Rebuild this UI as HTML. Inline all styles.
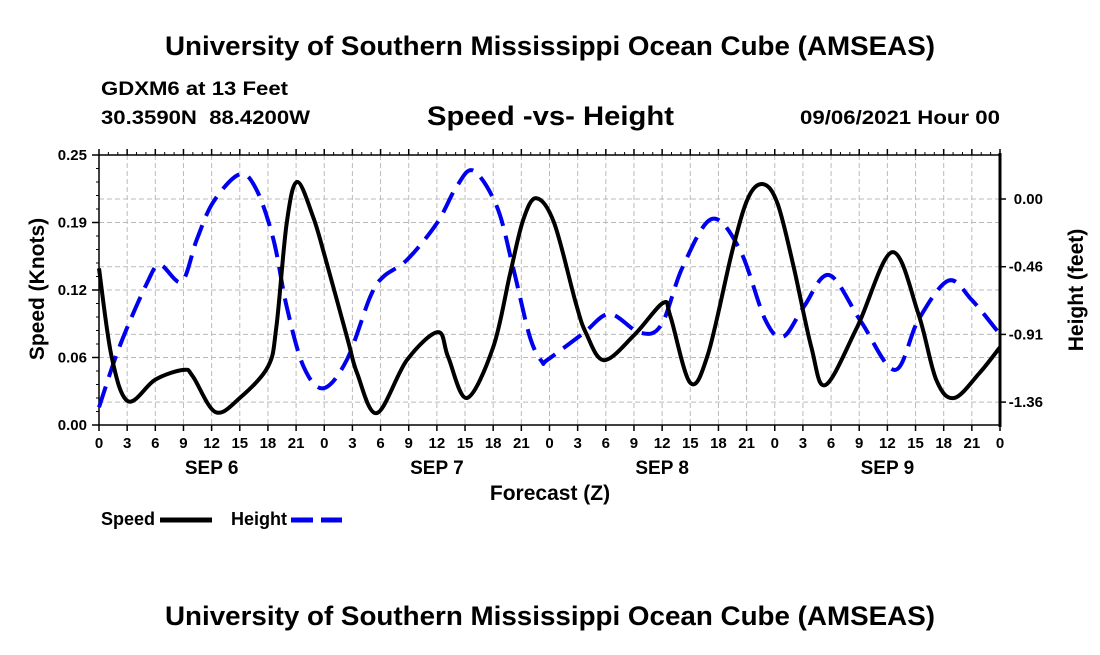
<!DOCTYPE html>
<html><head><meta charset="utf-8"><style>
body{margin:0;background:#fff;}
svg text{font-family:"Liberation Sans",sans-serif;font-weight:bold;fill:#000;}
</style></head><body>
<svg id="c" width="1100" height="650" viewBox="0 0 1100 650">
<text x="165" y="55" font-size="27" textLength="770" lengthAdjust="spacingAndGlyphs">University of Southern Mississippi Ocean Cube (AMSEAS)</text>
<text x="101" y="95" font-size="19" textLength="187" lengthAdjust="spacingAndGlyphs">GDXM6 at 13 Feet</text>
<text x="101" y="124" font-size="19" textLength="209" lengthAdjust="spacingAndGlyphs" xml:space="preserve">30.3590N  88.4200W</text>
<text x="427" y="125" font-size="27" textLength="247" lengthAdjust="spacingAndGlyphs">Speed -vs- Height</text>
<text x="800" y="124" font-size="19" textLength="200" lengthAdjust="spacingAndGlyphs">09/06/2021 Hour 00</text>
<g id="grid"></g>
<g id="axes"></g>
<g id="series"></g>
<text transform="translate(44,289) rotate(-90)" font-size="21" text-anchor="middle">Speed (Knots)</text>
<text transform="translate(1083,290) rotate(-90)" font-size="21" text-anchor="middle">Height (feet)</text>
<text x="550" y="500" font-size="21" text-anchor="middle">Forecast (Z)</text>
<g>
<text x="101" y="525" font-size="18">Speed</text>
<line x1="160" y1="520" x2="212" y2="520" stroke="#000" stroke-width="5"/>
<text x="231" y="525" font-size="18">Height</text>
<line x1="291" y1="520" x2="342" y2="520" stroke="#0000ee" stroke-width="5" stroke-dasharray="22,8"/>
</g>
<text x="165" y="625" font-size="27" textLength="770" lengthAdjust="spacingAndGlyphs">University of Southern Mississippi Ocean Cube (AMSEAS)</text>
</svg>
<script>
const speedHours=[0,1.35,3.1,6,9,10,12.4,15,18,18.9,20,21.1,22.8,24.1,26.5,27.5,29.6,32.8,36.1,37.2,39.2,42,43.8,45.2,46.6,48.5,50.8,51.9,53.8,57,60.1,60.9,63,64.9,67.5,69.2,70.8,72.3,74,75.9,77.4,80.8,84.5,87.3,89.2,91.1,93.8,96];
const speedValues=[0.145,0.063,0.022,0.042,0.051,0.045,0.012,0.025,0.054,0.091,0.187,0.225,0.193,0.155,0.079,0.048,0.011,0.060,0.086,0.063,0.025,0.072,0.14,0.19,0.21,0.187,0.113,0.085,0.060,0.083,0.113,0.100,0.039,0.066,0.162,0.211,0.223,0.205,0.147,0.072,0.037,0.091,0.160,0.103,0.042,0.025,0.048,0.072];
const heightHours=[0,2.2,5.1,6.5,8.8,10.4,12.2,15,16.8,18.6,20,21.8,23.9,26.4,28.9,30.3,32.8,36,38.1,39.9,42.4,44.1,45.9,47.2,47.8,51.6,54.4,57.6,59.9,62.2,65.3,68.3,71,72.9,75.1,77.8,81.2,84.8,87.3,90.5,93,96];
const heightValues=[-1.40,-0.99,-0.567,-0.443,-0.556,-0.276,-0.018,0.166,0.06,-0.276,-0.724,-1.127,-1.272,-1.082,-0.657,-0.522,-0.41,-0.163,0.083,0.19,-0.052,-0.455,-0.925,-1.093,-1.08,-0.903,-0.773,-0.898,-0.847,-0.455,-0.134,-0.343,-0.813,-0.925,-0.724,-0.511,-0.825,-1.149,-0.813,-0.549,-0.679,-0.91];
const speedTicks=[0,0.0625,0.125,0.1875,0.25];
const speedTickLabels=["0.00","0.06","0.12","0.19","0.25"];
const heightTicks=[0,-0.455,-0.91,-1.365];
const heightTickLabels=["0.00","-0.46","-0.91","-1.36"];
const hourLabels=["0","3","6","9","12","15","18","21"];
const dayLabels=["SEP 6","SEP 7","SEP 8","SEP 9"];

const L=99,R=1000,T=155,B=425;
const x=h=>L+(R-L)*h/96;
const yS=v=>B-(B-T)*v/0.25;
const yH=v=>199-(v/0.455)*67.7;
const NS='http://www.w3.org/2000/svg';
function mk(tag,attrs,parent){const e=document.createElementNS(NS,tag);for(const k in attrs)e.setAttribute(k,attrs[k]);parent.appendChild(e);return e;}
const grid=document.getElementById('grid'),axes=document.getElementById('axes'),series=document.getElementById('series');
for(let h=3;h<96;h+=3){const g=mk('line',{x1:x(h),x2:x(h),y1:T,y2:B,stroke:'#bbb','stroke-width':1,'stroke-dasharray':'5,3'},grid);

}
speedTicks.slice(1,-1).forEach(v=>{const g=mk('line',{x1:L,x2:R,y1:yS(v),y2:yS(v),stroke:'#bbb','stroke-width':1,'stroke-dasharray':'5,3'},grid);

});
heightTicks.forEach(v=>{const g=mk('line',{x1:L,x2:R,y1:yH(v),y2:yH(v),stroke:'#bbb','stroke-width':1,'stroke-dasharray':'5,3'},grid);

});
mk('rect',{x:L,y:T,width:R-L,height:B-T,fill:'none',stroke:'#000','stroke-width':1.5},axes);
mk('line',{x1:R,x2:R,y1:T-2,y2:B+2,stroke:'#000','stroke-width':3},axes);
for(let h=0;h<=96;h+=3){
 mk('line',{x1:x(h),x2:x(h),y1:B,y2:B+6,stroke:'#000','stroke-width':1.5},axes);
 mk('line',{x1:x(h),x2:x(h),y1:T,y2:T-6,stroke:'#000','stroke-width':1.5},axes);
 const t=mk('text',{x:x(h),y:B+23,'font-size':15,'text-anchor':'middle'},axes);
 t.textContent=hourLabels[(h/3)%8];
 
 
}
for(let h=1;h<96;h++){if(h%3)mk('line',{x1:x(h),x2:x(h),y1:T,y2:T-3,stroke:'#000','stroke-width':1},axes);}
dayLabels.forEach((d,i)=>{const t=mk('text',{x:x(i*24+12),y:B+49,'font-size':19,'text-anchor':'middle'},axes);t.textContent=d;

});
for(let v=0;v<=0.25001;v+=0.0125){mk('line',{x1:L,x2:L-3,y1:yS(v),y2:yS(v),stroke:'#000','stroke-width':1},axes);}
speedTicks.forEach((v,i)=>{mk('line',{x1:L,x2:L-7,y1:yS(v),y2:yS(v),stroke:'#000','stroke-width':1.5},axes);
 const t=mk('text',{x:L-12,y:yS(v)+5,'font-size':15,'text-anchor':'end'},axes);t.textContent=speedTickLabels[i];
 
 });
heightTicks.forEach((v,i)=>{mk('line',{x1:R,x2:R+6,y1:yH(v),y2:yH(v),stroke:'#000','stroke-width':1.5},axes);
 const t=mk('text',{x:1043,y:yH(v)+5,'font-size':15,'text-anchor':'end'},axes);t.textContent=heightTickLabels[i];
 
 });
function smooth(pts){let d='M'+pts[0][0]+','+pts[0][1];for(let i=0;i<pts.length-1;i++){const p0=pts[Math.max(0,i-1)],p1=pts[i],p2=pts[i+1],p3=pts[Math.min(pts.length-1,i+2)];
 const c1=[p1[0]+(p2[0]-p0[0])/6,p1[1]+(p2[1]-p0[1])/6],c2=[p2[0]-(p3[0]-p1[0])/6,p2[1]-(p3[1]-p1[1])/6];
 d+=' C'+c1[0]+','+c1[1]+' '+c2[0]+','+c2[1]+' '+p2[0]+','+p2[1];}return d;}
const hp=mk('path',{d:smooth(heightHours.map((h,i)=>[x(h),yH(heightValues[i])])),fill:'none',stroke:'#0000ee','stroke-width':4,'stroke-dasharray':'22,10'},series);


const sp=mk('path',{d:smooth(speedHours.map((h,i)=>[x(h),yS(speedValues[i])])),fill:'none',stroke:'#000','stroke-width':4},series);


</script>
</body></html>
